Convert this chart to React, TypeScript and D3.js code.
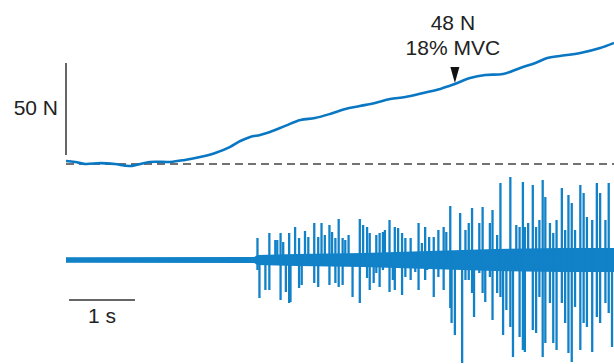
import React from "react";
import * as d3 from "d3";

// Force trace (time in s, force in N above baseline)
const forceTime = [0, 0.14, 0.29, 0.52, 0.74, 0.97, 1.27, 1.58, 1.8, 2.03, 2.26, 2.48, 2.64, 2.79, 2.94, 3.09, 3.32, 3.55, 3.77, 4.0, 4.23, 4.45, 4.68, 4.91, 5.14, 5.41, 5.67, 5.89, 6.12, 6.35, 6.62, 6.88, 7.11, 7.29, 7.48, 7.79, 8.09, 8.3];
const forceN = [1.6, 1.1, 0.0, 0.5, 0.0, -1.1, 1.1, 1.1, 2.2, 3.8, 6.0, 9.2, 12.5, 14.7, 15.8, 17.4, 20.7, 23.9, 25.0, 27.2, 29.9, 31.5, 33.2, 35.3, 36.4, 38.6, 40.8, 43.5, 46.7, 48.4, 48.9, 52.2, 54.9, 57.6, 58.7, 60.3, 63.0, 65.8];

// EMG background band (half-width, mV)
const envTime = [0, 2.85, 2.9, 3.5, 4.5, 5.5, 6.5, 7.5, 8.3];
const envHalf = [0.028, 0.03, 0.05, 0.06, 0.07, 0.09, 0.11, 0.12, 0.12];

// EMG spikes: time (s), positive peak (mV), negative peak (mV)
const spikeTime = [2.9, 2.93, 3.02, 3.08, 3.17, 3.2, 3.25, 3.29, 3.33, 3.38, 3.4, 3.47, 3.53, 3.57, 3.62, 3.67, 3.76, 3.82, 3.87, 3.92, 3.99, 4.03, 4.08, 4.13, 4.19,
  4.23, 4.28, 4.34, 4.45, 4.5, 4.56, 4.6, 4.66, 4.7, 4.75, 4.8, 4.83, 4.9, 4.95, 4.98, 5.03, 5.09, 5.14, 5.22, 5.29, 5.34, 5.39, 5.44, 5.47, 5.5, 5.57,
  5.64, 5.72, 5.76, 5.82, 5.84, 5.89, 5.97, 6.0, 6.05, 6.1, 6.15, 6.18, 6.26, 6.31, 6.35, 6.42, 6.46, 6.53, 6.58, 6.62, 6.67, 6.73, 6.77, 6.82, 6.87, 6.92,
  6.95, 7.0, 7.07, 7.12, 7.17, 7.22, 7.26, 7.33, 7.38, 7.43, 7.51, 7.56, 7.61, 7.66, 7.71, 7.79, 7.84, 7.89, 7.97, 8.04, 8.09, 8.17, 8.22, 8.27];
const spikeUp = [0.22, 0, 0, 0.27, 0.2, 0.2, 0.27, 0.18, 0, 0.27, 0, 0.33, 0.22, 0, 0.29, 0.23, 0.37, 0.23, 0.37, 0.25, 0.35, 0.28, 0.22, 0.41, 0.22,
  0.2, 0.25, 0, 0.41, 0.35, 0.33, 0.27, 0, 0.25, 0.27, 0.28, 0.3, 0.4, 0, 0.33, 0.32, 0.27, 0.22, 0.22, 0, 0.37, 0.17, 0.33, 0, 0.23, 0.23,
  0.3, 0.33, 0.28, 0.54, 0, 0, 0.47, 0, 0.3, 0.37, 0.52, 0, 0.37, 0.53, 0, 0.37, 0.5, 0.25, 0.77, 0, 0, 0.83, 0, 0.35, 0.33, 0.78,
  0.33, 0.37, 0.75, 0.33, 0.4, 0.8, 0.63, 0.37, 0.27, 0.4, 0.72, 0.3, 0.65, 0.57, 0.3, 0.75, 0.67, 0.43, 0.4, 0.77, 0.67, 0.4, 0.77, 0.07];
const spikeDown = [-0.1, -0.38, -0.3, -0.3, 0, 0, -0.4, 0, -0.32, -0.43, -0.42, 0, -0.28, -0.25, 0, 0, -0.23, -0.27, 0, 0, -0.25, 0, -0.23, -0.27, -0.25,
  0, 0, -0.37, -0.43, 0, -0.18, -0.3, -0.23, -0.13, -0.27, -0.1, 0, -0.32, -0.2, -0.3, 0, -0.35, -0.17, -0.2, -0.12, -0.3, 0, -0.2, -0.1, 0, -0.37,
  -0.17, -0.3, 0, -0.48, -0.63, -0.75, 0, -1.03, -0.2, -0.2, -0.33, -0.57, -0.13, -0.33, -0.42, -0.17, -0.6, -0.33, -0.37, -0.75, -0.5, -0.67, -0.97, 0, -0.77, -0.9,
  -0.92, 0, -0.7, -0.73, -0.37, -0.97, -0.83, -0.43, -0.83, -0.9, -0.43, -0.63, -0.93, -1.02, -0.47, -0.9, -0.63, -0.67, -0.92, -0.57, -0.63, -0.43, -0.53, -0.87];

const forceLabel1 = "48 N";
const forceLabel2 = "18% MVC";
const arrowTime = 5.89;
const forceBarLabel = "50 N";
const timeBarLabel = "1 s";

const W = 614;
const H = 364;
const FORCE_COLOR = "#0a77c2";
const EMG_COLOR = "#1181c8";
const INK = "#333";
const FONT = "Liberation Sans, Arial, Helvetica, sans-serif";

export default function App() {
  const x = d3.scaleLinear().domain([0, 8.3]).range([66, 614]);
  const yF = d3.scaleLinear().domain([0, 50]).range([164, 72]);
  const yE = d3.scaleLinear().domain([-1, 1]).range([360, 160]);

  const forcePts = forceTime.map((t, i) => [t, forceN[i]] as [number, number]);
  const forceLine = d3
    .line<[number, number]>()
    .x((d) => x(d[0]))
    .y((d) => yF(d[1]))
    .curve(d3.curveCatmullRom.alpha(0.5));

  const envPts = envTime.map((t, i) => [t, envHalf[i]] as [number, number]);
  const band = d3
    .area<[number, number]>()
    .x((d) => x(d[0]))
    .y0((d) => yE(-d[1]))
    .y1((d) => yE(d[1]));

  const arrowF = d3.scaleLinear().domain(forceTime).range(forceN)(arrowTime);
  const ax = x(arrowTime);
  const tipY = yF(arrowF) - 1;

  const barX = 66;
  const barTop = 63;
  const barLen = yF(0) - yF(50);
  const tBarY = 300;

  return (
    <svg
      width={W}
      height={H}
      style={{ position: "absolute", left: 0, top: 0, display: "block", background: "#fff" }}
      fontFamily={FONT}
    >
      {/* baseline */}
      <line x1={x(0)} x2={x(8.3)} y1={yF(0)} y2={yF(0)} stroke="#444" strokeWidth={1.4} strokeDasharray="8 5" />
      {/* force trace */}
      <path d={forceLine(forcePts) || ""} fill="none" stroke={FORCE_COLOR} strokeWidth={2.6} strokeLinejoin="round" />
      {/* EMG band */}
      <path d={band(envPts) || ""} fill={EMG_COLOR} />
      {/* EMG spikes */}
      {spikeTime.map((t, i) => (
        <line
          key={i}
          x1={x(t)}
          x2={x(t)}
          y1={yE(Math.max(spikeUp[i], envHalf[0]))}
          y2={yE(Math.min(spikeDown[i], -envHalf[0]))}
          stroke={EMG_COLOR}
          strokeWidth={2.3}
        />
      ))}
      {/* force scale bar */}
      <line x1={barX} x2={barX} y1={barTop} y2={barTop + barLen} stroke={INK} strokeWidth={1.5} />
      <text x={58} y={115} textAnchor="end" fontSize={21} fill="#222">
        {forceBarLabel}
      </text>
      {/* time scale bar */}
      <line x1={x(0) + 3} x2={x(1) + 3} y1={tBarY} y2={tBarY} stroke={INK} strokeWidth={1.5} />
      <text x={(x(0) + x(1)) / 2 + 3} y={323} textAnchor="middle" fontSize={21} fill="#222">
        {timeBarLabel}
      </text>
      {/* annotation */}
      <path d={`M${ax - 4.5},${tipY - 16} L${ax + 4.5},${tipY - 16} L${ax},${tipY} Z`} fill="#111" />
      <text x={ax - 2} y={30} textAnchor="middle" fontSize={21} fill="#222">
        {forceLabel1}
      </text>
      <text x={ax - 2} y={55} textAnchor="middle" fontSize={21} fill="#222">
        {forceLabel2}
      </text>
    </svg>
  );
}
